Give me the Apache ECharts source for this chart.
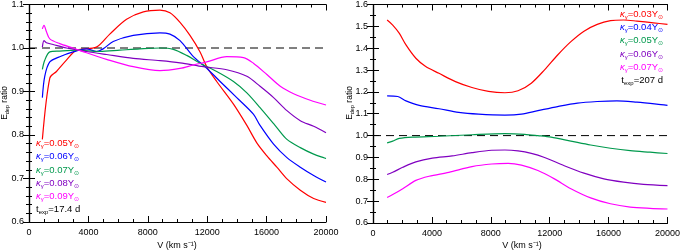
<!DOCTYPE html>
<html><head><meta charset="utf-8">
<script src="https://cdn.jsdelivr.net/npm/echarts@6/dist/echarts.min.js"></script>
<style>html,body{margin:0;padding:0;background:#fff}#c{width:683px;height:251px}</style>
</head><body><div id="c"></div>
<script>
// ---- Data (V in km/s, Edep ratio) ----
const xTicks = [0, 4000, 8000, 12000, 16000, 20000];
const leftYTicks = [0.6, 0.7, 0.8, 0.9, 1.0, 1.1];
const rightYTicks = [0.6, 0.7, 0.8, 0.9, 1.0, 1.1, 1.2, 1.3, 1.4, 1.5, 1.6];

const leftLabels = ['0.05', '0.06', '0.07', '0.08', '0.09'];
const leftTexp = '17.4';
const rightLabels = ['0.03', '0.04', '0.05', '0.06', '0.07'];
const rightTexp = '207';

const L_red = [[900,0.79],[1400,0.931],[1850,0.946],[2520,0.972],[3200,0.995],[4540,1.002],[5440,1.032],[6570,1.066],[7700,1.083],[8820,1.087],[9490,1.081],[10170,1.059],[10840,1.029],[11520,0.991],[11970,0.957],[12640,0.923],[13770,0.871],[14670,0.822],[15340,0.782],[16020,0.752],[16690,0.726],[17370,0.699],[18270,0.673],[19170,0.654],[20000,0.645]];
const L_blue = [[900,0.886],[1060,0.935],[1400,0.968],[2070,0.980],[2970,0.991],[3870,0.998],[4540,0.992],[4990,0.998],[5670,1.015],[7020,1.029],[8820,1.035],[9490,1.032],[10170,1.017],[11070,0.980],[11860,0.957],[12870,0.923],[13990,0.886],[15110,0.848],[15560,0.822],[16470,0.779],[17370,0.748],[18270,0.726],[19170,0.707],[20000,0.692]];
const L_green = [[900,0.951],[1060,0.972],[1400,0.991],[2070,0.993],[3200,0.995],[4770,0.992],[6120,0.995],[7470,0.998],[8820,1.0],[9720,0.997],[10620,0.983],[11520,0.965],[12640,0.946],[13770,0.923],[14670,0.897],[15560,0.863],[16470,0.826],[16690,0.817],[17370,0.790],[18270,0.771],[19170,0.756],[20000,0.746]];
const L_purple = [[900,1.002],[1010,1.017],[1170,1.012],[1620,1.008],[2520,1.0],[3870,0.992],[5220,0.985],[7020,0.976],[8820,0.971],[10170,0.966],[11740,0.957],[13320,0.950],[14670,0.935],[15560,0.912],[16470,0.886],[17370,0.856],[18270,0.833],[19170,0.820],[20000,0.805]];
const L_magenta = [[900,1.044],[1010,1.052],[1170,1.038],[1400,1.021],[2070,1.010],[2970,1.0],[3870,0.989],[5220,0.974],[7020,0.957],[8820,0.948],[10170,0.953],[11070,0.961],[11970,0.968],[13320,0.980],[14440,0.978],[15110,0.965],[16020,0.939],[16920,0.912],[17820,0.895],[18940,0.880],[20000,0.869]];

const R_red = [[960,1.529],[1340,1.506],[1790,1.468],[2240,1.415],[2910,1.354],[3580,1.316],[4480,1.285],[5600,1.247],[6720,1.220],[7840,1.202],[8960,1.196],[9850,1.205],[10750,1.240],[11650,1.301],[12540,1.369],[13440,1.430],[14330,1.478],[15230,1.509],[16130,1.526],[17020,1.529],[17920,1.524],[19040,1.516],[20000,1.509]];
const R_blue = [[960,1.182],[1680,1.179],[2240,1.159],[3140,1.138],[4480,1.123],[5820,1.106],[7170,1.098],[8960,1.094],[10080,1.098],[11200,1.114],[12540,1.133],[13890,1.149],[15230,1.156],[16570,1.159],[17920,1.153],[19260,1.144],[20000,1.138]];
const R_green = [[960,0.967],[1340,0.975],[1790,0.987],[2690,0.993],[4480,0.997],[6720,1.004],[8960,1.009],[10300,1.006],[11200,1.0],[12090,0.993],[13440,0.975],[14780,0.957],[16130,0.942],[17470,0.931],[18810,0.924],[20000,0.918]];
const R_purple = [[960,0.822],[1340,0.832],[2020,0.855],[2910,0.880],[4030,0.897],[5380,0.907],[6720,0.922],[8060,0.933],[8960,0.934],[9850,0.930],[10750,0.919],[11650,0.900],[12990,0.862],[14330,0.828],[15680,0.802],[17020,0.787],[18370,0.777],[20000,0.771]];
const R_magenta = [[960,0.717],[1340,0.730],[2020,0.757],[2910,0.795],[3810,0.814],[5150,0.832],[6720,0.858],[8060,0.870],[9180,0.873],[10080,0.865],[11200,0.840],[12320,0.802],[13440,0.757],[14780,0.715],[16130,0.688],[17470,0.673],[18810,0.667],[20000,0.664]];

const colors = ['#ff0000', '#0000ff', '#00994d', '#8000c0', '#ff00ff'];
const leftSeries = [L_red, L_blue, L_green, L_purple, L_magenta];
const rightSeries = [R_red, R_blue, R_green, R_purple, R_magenta];

const FONT = 'Liberation Sans';
const lab = {color: '#000', fontSize: 9, fontFamily: FONT};

function xAx(gi, pos, show) {
  return {
    type: 'value', gridIndex: gi, position: pos, min: 0, max: 20000, interval: 4000,
    axisLine: {show: true, lineStyle: {color: '#000', width: 1.2}},
    axisTick: {show: true, inside: true, length: 6, lineStyle: {color: '#000'}},
    minorTick: {show: true, splitNumber: 4, length: 3, lineStyle: {color: '#000'}},
    splitLine: {show: false},
    axisLabel: show ? Object.assign({margin: 6, showMinLabel: true, showMaxLabel: true, formatter: v => String(v)}, lab) : {show: false}
  };
}
function yAx(gi, pos, min, max, minorSplit, show) {
  return {
    type: 'value', gridIndex: gi, position: pos, min: min, max: max, interval: 0.1,
    axisLine: {show: true, lineStyle: {color: '#000', width: 1.2}},
    axisTick: {show: true, inside: true, length: 6, lineStyle: {color: '#000'}},
    minorTick: {show: true, splitNumber: minorSplit, length: 3, lineStyle: {color: '#000'}},
    splitLine: {show: false},
    axisLabel: show ? Object.assign({margin: 5, formatter: v => v.toFixed(1)}, lab) : {show: false}
  };
}

const series = [];
leftSeries.forEach((d, i) => series.push({type: 'line', xAxisIndex: 0, yAxisIndex: 0, data: d, smooth: 0.3, showSymbol: false, lineStyle: {color: colors[i], width: 1.2}, z: 3}));
rightSeries.forEach((d, i) => series.push({type: 'line', xAxisIndex: 2, yAxisIndex: 2, data: d, smooth: 0.3, showSymbol: false, lineStyle: {color: colors[i], width: 1.2}, z: 3}));
series.push({type: 'line', xAxisIndex: 0, yAxisIndex: 0, data: [[0,1],[20000,1]], showSymbol: false, lineStyle: {color: '#000', width: 1, type: [8, 5]}, z: 2});
series.push({type: 'line', xAxisIndex: 2, yAxisIndex: 2, data: [[0,1],[20000,1]], showSymbol: false, lineStyle: {color: '#000', width: 1, type: [8, 5]}, z: 2});

function rich(c) {
  return {
    k: {fontSize: 9.5, fontStyle: 'italic', fontFamily: FONT, fill: c, lineHeight: 12},
    s: {fontSize: 6, fontFamily: FONT, fill: c, verticalAlign: 'bottom', lineHeight: 9},
    n: {fontSize: 9.5, fontFamily: FONT, fill: c, lineHeight: 12}
  };
}
const graphics = [];
function addLegend(labels, texp, x, y0, align) {
  labels.forEach((l, i) => {
    graphics.push({type: 'text', x: x, y: y0 + i * 13.2, style: {
      text: '{k|κ}{s|γ}{n|=' + l + 'Y}{s|⊙}', rich: rich(colors[i]), align: align, verticalAlign: 'middle'
    }});
  });
  graphics.push({type: 'text', x: x, y: y0 + 5 * 13.2, style: {
    text: '{n|t}{s|exp}{n|=' + texp + ' d}', rich: rich('#000'), align: align, verticalAlign: 'middle'
  }});
}
addLegend(leftLabels, leftTexp, 36, 143.5, 'left');
addLegend(rightLabels, rightTexp, 663, 14.3, 'right');

function yName(x, y) {
  graphics.push({type: 'text', x: x, y: y, rotation: Math.PI / 2, style: {
    text: '{n|E}{s|dep}{n| ratio}', rich: {
      n: {fontSize: 8.5, fontFamily: FONT, fill: '#000', lineHeight: 11},
      s: {fontSize: 5.5, fontFamily: FONT, fill: '#000', verticalAlign: 'bottom', lineHeight: 8}
    }, align: 'center', verticalAlign: 'middle'
  }});
}
yName(5, 103);
yName(350, 103);
function xName(x, y) {
  graphics.push({type: 'text', x: x, y: y, style: {
    text: 'V (km s⁻¹)', fontSize: 9, fontFamily: FONT, fill: '#000', align: 'center', verticalAlign: 'middle'
  }});
}
xName(177, 246);
xName(522, 246);

const chart = echarts.init(document.getElementById('c'), null, {renderer: 'canvas'});
chart.setOption({
  animation: false,
  grid: [
    {left: 29, top: 2, width: 297, height: 220},
    {left: 373, top: 2, width: 298, height: 221}
  ],
  xAxis: [xAx(0, 'bottom', true), xAx(0, 'top', false), xAx(1, 'bottom', true), xAx(1, 'top', false)],
  yAxis: [yAx(0, 'left', 0.6, 1.1, 5, true), yAx(0, 'right', 0.6, 1.1, 5, false), yAx(1, 'left', 0.6, 1.6, 2, true), yAx(1, 'right', 0.6, 1.6, 2, false)],
  series: series,
  graphic: graphics
});
</script></body></html>
